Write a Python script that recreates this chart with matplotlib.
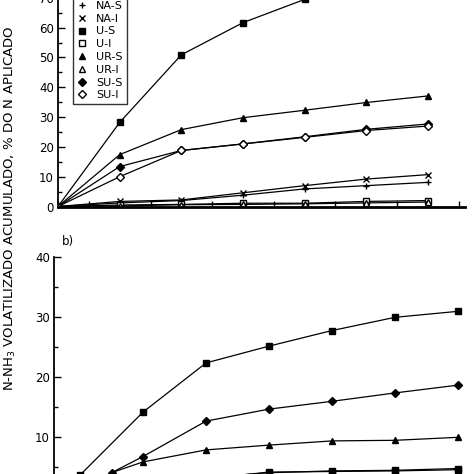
import numpy as np
import matplotlib
matplotlib.use('Agg')
import matplotlib.pyplot as plt
from matplotlib.ticker import MultipleLocator

plt.rcParams['font.family'] = 'DejaVu Sans'

# ── Panel a) data (days after application) ──────────────────────────
days_a = [0, 2, 4, 6, 8, 10, 12]
na_s = [0, 1.2, 2.0, 3.8, 5.9, 7.0, 8.1]
na_i = [0, 1.7, 2.2, 4.6, 7.0, 9.2, 10.7]
u_s = [0, 28.2, 50.9, 61.7, 69.5]
u_i = [0, 0.5, 0.7, 1.1, 1.1, 1.7, 2.0]
ur_s = [0, 17.4, 25.8, 29.8, 32.3, 34.9, 37.1]
ur_i = [0, 0.2, 0.6, 0.7, 0.9, 1.2, 1.5]
su_s = [0, 13.4, 18.8, 21.0, 23.4, 25.9, 27.7]
su_i = [0, 10.0, 18.8, 21.0, 23.2, 25.5, 27.0]

# ── Panel b) data ───────────────────────────────────────────────────
days_b_us = [1, 3, 5, 7, 9, 11, 13]
b_u_s = [3.6, 14.1, 22.3, 25.1, 27.7, 29.9, 30.9]
days_b = [2, 3, 5, 7, 9, 11, 13]
b_su_s = [4.0, 6.7, 12.6, 14.6, 15.9, 17.3, 18.6]
b_ur_s = [4.0, 5.8, 7.8, 8.6, 9.3, 9.4, 9.9]
days_b_low = [5, 7, 9, 11, 13]
b_u_i = [3.2, 4.0, 4.3, 4.4, 4.7]
b_low2 = [3.0, 4.1, 4.2, 4.3, 4.5]

LEGEND = ['NA-S', 'NA-I', 'U-S', 'U-I', 'UR-S', 'UR-I', 'SU-S', 'SU-I']

W = H = 474
fig = plt.figure(figsize=(4.74, 4.74), dpi=100)


def px_axes(left, right, y0, y_top):
    # axes from pixel coords (y measured from top of image)
    return fig.add_axes([left / W, 1 - y0 / H, (right - left) / W, (y0 - y_top) / H])


line_kw = dict(color='black', lw=0.9, ms=4.5, clip_on=True)

# ── a) ──────────────────────────────────────────────────────────────
ax1 = px_axes(58, 465, 206.5, 206.5 - 75 * 2.98)
ax1.set_xlim(0, 13.2)
ax1.set_ylim(0, 75)
h = []
h += ax1.plot(days_a, na_s, marker='+', mew=1.0, **line_kw)
h += ax1.plot(days_a, na_i, marker='x', mew=1.0, **line_kw)
h += ax1.plot(days_a[:len(u_s)], u_s, marker='s', mfc='black', ms=4.5, color='black', lw=0.9)
h += ax1.plot(days_a, u_i, marker='s', mfc='white', ms=4, color='black', lw=0.9)
h += ax1.plot(days_a, ur_s, marker='^', mfc='black', ms=4.5, color='black', lw=0.9)
h += ax1.plot(days_a, ur_i, marker='^', mfc='white', ms=4, color='black', lw=0.9)
h += ax1.plot(days_a, su_s, marker='D', mfc='black', ms=4.5, color='black', lw=0.9)
h += ax1.plot(days_a, su_i, marker='D', mfc='white', ms=4, color='black', lw=0.9)

for s in ['top', 'right']:
    ax1.spines[s].set_visible(False)
ax1.spines['bottom'].set_linewidth(2)
ax1.spines['left'].set_linewidth(1.3)
ax1.yaxis.set_major_locator(MultipleLocator(10))
ax1.yaxis.set_minor_locator(MultipleLocator(5))
ax1.xaxis.set_major_locator(MultipleLocator(1))
ax1.set_xticklabels([])
ax1.tick_params(axis='x', direction='in', length=4, width=1)
ax1.tick_params(axis='y', which='both', direction='in', width=1, labelsize=8.5, pad=3)
ax1.tick_params(axis='y', which='major', length=5)
ax1.tick_params(axis='y', which='minor', length=3)

leg = ax1.legend(h, LEGEND, loc='upper left', bbox_to_anchor=(73 / W, 1 + 3 / H),
                 bbox_transform=fig.transFigure, frameon=True, fancybox=False,
                 edgecolor='black', fontsize=8, handlelength=0.9, handletextpad=0.8,
                 labelspacing=0.25, borderpad=0.35, borderaxespad=0)
leg.get_frame().set_linewidth(1.0)
for ln in leg.get_lines():
    ln.set_linestyle('none')

# ── b) ──────────────────────────────────────────────────────────────
ax2 = px_axes(54, 474, 496.7, 256.7)
ax2.set_xlim(0.175, 13.5)
ax2.set_ylim(0, 40)
ax2.plot(days_b_us, b_u_s, marker='s', mfc='black', ms=4.5, color='black', lw=0.9)
ax2.plot(days_b, b_su_s, marker='D', mfc='black', ms=4.5, color='black', lw=0.9)
ax2.plot(days_b, b_ur_s, marker='^', mfc='black', ms=4.5, color='black', lw=0.9)
ax2.plot(days_b_low, b_u_i, marker='s', mfc='white', ms=4, color='black', lw=0.9)
ax2.plot(days_b_low, b_low2, marker='s', mfc='black', ms=4, color='black', lw=0.9)

for s in ['top', 'right']:
    ax2.spines[s].set_visible(False)
ax2.spines['left'].set_linewidth(1.3)
ax2.spines['bottom'].set_linewidth(2)
ax2.yaxis.set_major_locator(MultipleLocator(10))
ax2.yaxis.set_minor_locator(MultipleLocator(5))
ax2.set_yticks([10, 20, 30, 40])
ax2.set_xticks([])
ax2.tick_params(axis='y', which='both', direction='in', width=1, labelsize=8.5, pad=3)
ax2.tick_params(axis='y', which='major', length=5)
ax2.tick_params(axis='y', which='minor', length=3)

fig.text(62 / W, 1 - 241 / H, 'b)', fontsize=8.5, ha='left', va='center')

fig.text(10 / W, 1 - 208 / H, 'N-NH$_3$ VOLATILIZADO ACUMULADO, % DO N APLICADO',
         rotation=90, ha='center', va='center', fontsize=9.5)

fig.savefig('out.png', dpi=100)
